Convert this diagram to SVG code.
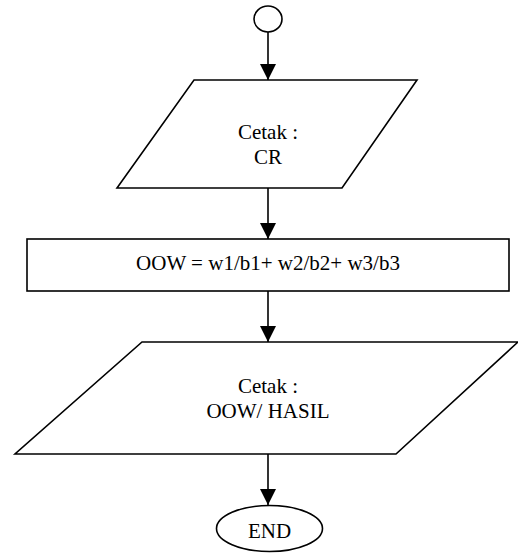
<svg xmlns="http://www.w3.org/2000/svg" width="518" height="554" viewBox="0 0 518 554">
<style>
.s{fill:#fff;stroke:#000;stroke-width:1.6}
.c{fill:none;stroke:#000;stroke-width:1.6}
text{font-family:"Liberation Serif","Times New Roman",serif;font-size:21px;fill:#000;text-anchor:middle}
</style>
<defs>
<marker id="ah" markerUnits="userSpaceOnUse" markerWidth="16" markerHeight="16" refX="16" refY="8" orient="auto" viewBox="0 0 16 16">
<path d="M0,0 L16,8 L0,16 Z" fill="#000"/>
</marker>
</defs>
<g id="connectors">
<line class="c" x1="268" y1="32" x2="268" y2="80" marker-end="url(#ah)"/>
<line class="c" x1="268" y1="188" x2="268" y2="239" marker-end="url(#ah)"/>
<line class="c" x1="268" y1="291" x2="268" y2="342" marker-end="url(#ah)"/>
<line class="c" x1="268" y1="454" x2="268" y2="505" marker-end="url(#ah)"/>
</g>
<g id="start">
<ellipse class="s" cx="268" cy="19" rx="14" ry="13"/>
</g>
<g id="print-cr">
<polygon class="s" points="194,80 417,80 342,188 117,188"/>
<text x="268" y="139">Cetak :</text>
<text x="268" y="164">CR</text>
</g>
<g id="process-oow">
<rect class="s" x="27" y="239" width="482" height="52"/>
<text x="268" y="270">OOW = w1/b1+ w2/b2+ w3/b3</text>
</g>
<g id="print-oow">
<polygon class="s" points="142,342 518,342 396,454 15,454"/>
<text x="268" y="393">Cetak :</text>
<text x="268" y="418">OOW/ HASIL</text>
</g>
<g id="end">
<ellipse class="s" cx="269.5" cy="528.5" rx="53" ry="23"/>
<text x="269.5" y="538">END</text>
</g>
</svg>
